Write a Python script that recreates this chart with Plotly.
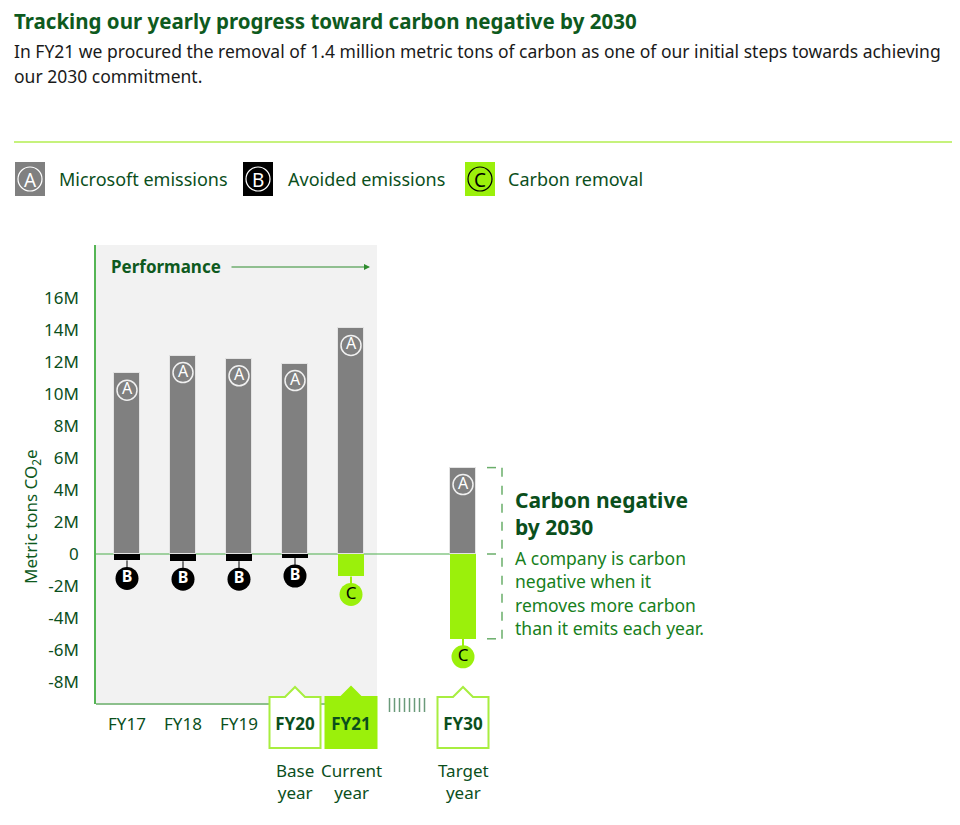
import plotly.graph_objects as go

# ---------------- data ----------------
years = ["FY17", "FY18", "FY19", "FY20", "FY21", "FY30"]
xpos = [0, 1, 2, 3, 4, 6]
microsoft_emissions = [11.3, 12.4, 12.2, 11.9, 14.1, 5.4]       # million t
avoided_emissions = [-0.4, -0.45, -0.45, -0.25, None, None]
carbon_removal = [None, None, None, None, -1.4, -5.3]
tick_vals = [16, 14, 12, 10, 8, 6, 4, 2, 0, -2, -4, -6, -8]
tick_text = ["16M", "14M", "12M", "10M", "8M", "6M", "4M", "2M", "0",
             "-2M", "-4M", "-6M", "-8M"]
tick_labels_x = ["FY17", "FY18", "FY19", "<b>FY20</b>", "<b>FY21</b>", "<b>FY30</b>"]

# ---------------- geometry (reference pixel coordinates) ----------------
PAGE_OFF = 8                       # body margin of the html page
W, H = 960 - PAGE_OFF, 825 - PAGE_OFF
PL, PT, PB = 96, 245, 704          # plot area in reference pixels
PW = 844
PH = PB - PT
L, T = PL - PAGE_OFF, PT - PAGE_OFF
R = W - L - PW
B = H - (PB - PAGE_OFF)
PXX = 56.0           # px per category unit
X0PX = 127.0         # pixel of x=0
xmin = -(X0PX - PL) / PXX
xmax = xmin + PW / PXX
PXY = 16.0           # px per million
ZPX = 554.0
ymax = (ZPX - PT) / PXY
ymin = ymax - PH / PXY
BARW = 26 / PXX

def pxp(px):
    return (px - PL) / PW

def pyp(py):
    return (PB - py) / PH

FONT = "Segoe UI, Noto Sans, sans-serif"
DKG = "#0b4f1c"
GREEN = "#9bf00b"
GRAY = "#808080"

fig = go.Figure()

fig.add_trace(go.Bar(x=xpos, y=microsoft_emissions, width=BARW,
                     marker=dict(color=GRAY, line=dict(color="#e4e4e4", width=1)),
                     name="Microsoft emissions"))
fig.add_trace(go.Bar(x=xpos, y=avoided_emissions, width=BARW,
                     marker=dict(color="#000000", line=dict(width=0)),
                     name="Avoided emissions"))
fig.add_trace(go.Bar(x=xpos, y=carbon_removal, width=BARW,
                     marker=dict(color=GREEN, line=dict(width=0)),
                     name="Carbon removal"))

# stems
off = 18 / PXY
sx, sy, cx, cy = [], [], [], []
for x, v in zip(xpos, avoided_emissions):
    if v is not None:
        sx += [x, x, None]; sy += [v, v - off, None]
for x, v in zip(xpos, carbon_removal):
    if v is not None:
        cx += [x, x, None]; cy += [v, v - off, None]
fig.add_trace(go.Scatter(x=sx, y=sy, mode="lines", line=dict(color="#000", width=1)))
fig.add_trace(go.Scatter(x=cx, y=cy, mode="lines", line=dict(color=GREEN, width=2)))

# letter markers
aoff = 17 / PXY
fig.add_trace(go.Scatter(
    x=xpos, y=[v - aoff for v in microsoft_emissions], mode="markers+text",
    text=["A"] * len(xpos), textposition="middle center",
    textfont=dict(color="white", size=16, family=FONT),
    marker=dict(symbol="circle", size=20, color=GRAY, line=dict(color="#f0f0f0", width=1.5))))
bx = [x for x, v in zip(xpos, avoided_emissions) if v is not None]
by = [v - off for v in avoided_emissions if v is not None]
fig.add_trace(go.Scatter(
    x=bx, y=by, mode="markers+text", text=["<b>B</b>"] * len(bx),
    textposition="middle center", textfont=dict(color="white", size=16, family=FONT),
    marker=dict(symbol="circle", size=23, color="#000", line=dict(color="#000", width=0))))
cxp = [x for x, v in zip(xpos, carbon_removal) if v is not None]
cyp = [v - off for v in carbon_removal if v is not None]
fig.add_trace(go.Scatter(
    x=cxp, y=cyp, mode="markers+text", text=["C"] * len(cxp),
    textposition="middle center", textfont=dict(color="#000", size=17, family=FONT),
    marker=dict(symbol="circle", size=23, color=GREEN, line=dict(width=0))))

shapes = []
# performance background
shapes.append(dict(type="rect", xref="x", yref="paper", x0=xmin, x1=4.464, y0=0, y1=1,
                   fillcolor="#f2f2f2", line=dict(width=0), layer="below"))
# bottom axis line
shapes.append(dict(type="line", xref="x", yref="paper", x0=xmin, x1=4.464, y0=0, y1=0,
                   line=dict(color="#8cc08c", width=2), layer="below"))
# zero line
shapes.append(dict(type="line", xref="x", yref="y", x0=xmin, x1=6 - BARW / 2, y0=0, y1=0,
                   line=dict(color="#4cae4c", width=1.2), layer="below"))

# year boxes
hw = 25.5 / PXX
tri = 10 / PXX
top = pyp(697); apex = pyp(687); bot = pyp(748)
for xi, filled in [(3, False), (4, True), (6, False)]:
    path = (f"M {xi-hw},{bot} L {xi-hw},{top} L {xi-tri},{top} L {xi},{apex} "
            f"L {xi+tri},{top} L {xi+hw},{top} L {xi+hw},{bot} Z")
    shapes.append(dict(type="path", xref="x", yref="paper", path=path,
                       fillcolor=GREEN if filled else "white",
                       line=dict(color=GREEN if filled else "#a8ee40", width=2),
                       layer="below"))
# separator ticks
for i in range(8):
    xx = 5 + (i - 3.5) * 5 / PXX
    shapes.append(dict(type="line", xref="x", yref="paper", x0=xx, x1=xx,
                       y0=pyp(698), y1=pyp(712), line=dict(color="#6a9a7a", width=1.5)))
# bracket
bxl = 6 + 24 / PXX; bxr = 6 + 39 / PXX
bt = microsoft_emissions[5]; bb = carbon_removal[5]
dash = dict(color="#6aae6a", width=1.5, dash="dash")
shapes.append(dict(type="line", xref="x", yref="y", x0=bxr, x1=bxr, y0=bb, y1=bt, line=dash))
for yy in [bt, 0, bb]:
    shapes.append(dict(type="line", xref="x", yref="y", x0=bxl, x1=bxr, y0=yy, y1=yy, line=dash))
# top rule
shapes.append(dict(type="line", xref="paper", yref="paper", x0=pxp(14), x1=pxp(960),
                   y0=pyp(142), y1=pyp(142), line=dict(color="#c6f27c", width=2)))

def text(t, x, y, size, color, xanchor="left", bold=False, **kw):
    return dict(text=f"<b>{t}</b>" if bold else t, x=pxp(x), y=pyp(y), xref="paper",
                yref="paper", xanchor=xanchor, yanchor="middle", showarrow=False,
                borderpad=0, font=dict(color=color, size=size, family=FONT), **kw)

# legend boxes
ann = []
leg = [("A", 15, GRAY, "white", "Microsoft emissions", 58),
       ("B", 243, "#000000", "white", "Avoided emissions", 287),
       ("C", 465, GREEN, "#000000", "Carbon removal", 507)]
for letter, x0, fc, lc, label, tx in leg:
    shapes.append(dict(type="rect", xref="paper", yref="paper", x0=pxp(x0), x1=pxp(x0 + 30),
                       y0=pyp(196), y1=pyp(162), fillcolor=fc, line=dict(width=0)))
    shapes.append(dict(type="circle", xref="paper", yref="paper", xsizemode="pixel",
                       ysizemode="pixel", xanchor=pxp(x0 + 15), yanchor=pyp(179),
                       x0=-12, x1=12, y0=-12, y1=12, line=dict(color=lc, width=1.2)))
    ann.append(text(letter, x0 + 15, 180, 19, lc, xanchor="center"))
    ann.append(text(label, tx, 179, 18, DKG))

# title
ann.append(text("Tracking our yearly progress toward carbon negative by 2030", 13, 21, 20.5,
                "#0e5a1e", bold=True))
ann.append(text("In FY21 we procured the removal of 1.4 million metric tons of carbon as one of our initial steps towards achieving",
                13, 51, 17.5, "#1a1a1a"))
ann.append(text("our 2030 commitment.", 13, 76, 17.5, "#1a1a1a"))
# performance
ann.append(text("Performance", 110, 266, 17, "#0e5a1e", bold=True))
ann.append(dict(text="", x=pxp(370), y=pyp(267), xref="paper", yref="paper", ax=-140, ay=0,
                showarrow=True, arrowhead=2, arrowsize=1, arrowwidth=1.2, arrowcolor="#2e8b2e"))
# y title
ann.append(text("Metric tons CO<sub>2</sub>e", 31, 517, 17, "#0e5a1e", xanchor="center",
                textangle=-90))
# year captions
for xi, t in [(3, "Base<br>year"), (4, "Current<br>year"), (6, "Target<br>year")]:
    ann.append(dict(text=t, x=xi, y=pyp(781), xref="x", yref="paper", showarrow=False,
                    xanchor="center", yanchor="middle",
                    font=dict(color=DKG, size=17, family=FONT)))
# right text
for t, yy in [("Carbon negative", 500), ("by 2030", 527)]:
    ann.append(text(t, 514, yy, 21, "#0b4f1c", bold=True))
for t, yy in [("A company is carbon", 558), ("negative when it", 581),
              ("removes more carbon", 605), ("than it emits each year.", 628)]:
    ann.append(text(t, 514, yy, 17.5, "#17801c"))

fig.update_layout(
    width=W, height=H, margin=dict(l=L, r=R, t=T, b=B, autoexpand=False),
    paper_bgcolor="white", plot_bgcolor="rgba(0,0,0,0)",
    barmode="relative", bargap=0, showlegend=False,
    shapes=shapes, annotations=ann,
    font=dict(family=FONT),
    xaxis=dict(range=[xmin, xmax], tickvals=xpos, ticktext=tick_labels_x, showgrid=False,
               zeroline=False, showline=False, ticks="", ticklabelstandoff=8,
               tickfont=dict(color=DKG, size=17, family=FONT), fixedrange=True),
    yaxis=dict(range=[ymin, ymax], tickvals=tick_vals, ticktext=tick_text, showgrid=False,
               zeroline=False, showline=True, linecolor="#55b555", linewidth=1.5, ticks="",
               ticklabelstandoff=12, tickfont=dict(color=DKG, size=17, family=FONT),
               fixedrange=True),
)

fig.write_html("out.html")
